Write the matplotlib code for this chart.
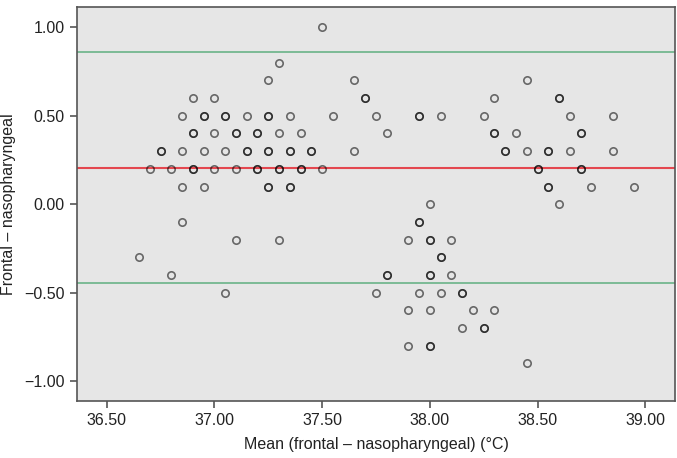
import numpy as np
import matplotlib
matplotlib.use("Agg")
import matplotlib.pyplot as plt

plt.rcParams['font.family'] = ['Liberation Sans', 'DejaVu Sans']

# Data: mean of readings (°C), difference (°C), number of overlapping observations
mean_vals = [37.50, 37.30, 37.25, 36.90, 37.00,
             36.85, 36.95, 37.05, 37.15, 37.25, 37.35,
             36.90, 37.00, 37.10, 37.20, 37.30, 37.40,
             36.75, 36.85, 36.95, 37.05, 37.15, 37.25, 37.35, 37.45,
             36.70, 36.80, 36.90, 37.00, 37.10, 37.20, 37.30, 37.40, 37.50,
             36.85, 36.95, 37.25, 37.35,
             36.85, 37.10, 37.30, 36.65, 36.80, 37.05,
             37.65, 37.70, 37.55, 37.75, 37.95, 38.05, 37.80, 37.65,
             38.00, 37.95, 37.90, 38.00, 38.10, 38.05,
             37.80, 38.00, 38.10, 37.75, 37.95, 38.05, 38.15,
             37.90, 38.00, 38.20, 38.30, 38.15, 38.25, 37.90, 38.00,
             38.45, 38.30, 38.60, 38.25, 38.65, 38.85,
             38.30, 38.40, 38.70,
             38.35, 38.45, 38.55, 38.65, 38.85,
             38.50, 38.70, 38.55, 38.75, 38.95, 38.60, 38.45]
diff_vals = [1.0, 0.8, 0.7, 0.6, 0.6,
             0.5, 0.5, 0.5, 0.5, 0.5, 0.5,
             0.4, 0.4, 0.4, 0.4, 0.4, 0.4,
             0.3, 0.3, 0.3, 0.3, 0.3, 0.3, 0.3, 0.3,
             0.2, 0.2, 0.2, 0.2, 0.2, 0.2, 0.2, 0.2, 0.2,
             0.1, 0.1, 0.1, 0.1,
             -0.1, -0.2, -0.2, -0.3, -0.4, -0.5,
             0.7, 0.6, 0.5, 0.5, 0.5, 0.5, 0.4, 0.3,
             0.0, -0.1, -0.2, -0.2, -0.2, -0.3,
             -0.4, -0.4, -0.4, -0.5, -0.5, -0.5, -0.5,
             -0.6, -0.6, -0.6, -0.6, -0.7, -0.7, -0.8, -0.8,
             0.7, 0.6, 0.6, 0.5, 0.5, 0.5,
             0.4, 0.4, 0.4,
             0.3, 0.3, 0.3, 0.3, 0.3,
             0.2, 0.2, 0.1, 0.1, 0.1, 0.0, -0.9]
n_overlap = [1, 1, 1, 1, 1,
             1, 2, 2, 1, 2, 1,
             2, 1, 2, 2, 1, 1,
             2, 1, 1, 1, 2, 2, 2, 2,
             1, 1, 2, 1, 1, 2, 2, 2, 1,
             1, 1, 2, 2,
             1, 1, 1, 1, 1, 1,
             1, 2, 1, 1, 2, 1, 1, 1,
             1, 2, 1, 2, 1, 2,
             2, 2, 1, 1, 1, 1, 2,
             1, 1, 1, 1, 1, 2, 1, 2,
             1, 1, 2, 1, 1, 1,
             2, 1, 2,
             2, 1, 2, 1, 1,
             2, 2, 2, 1, 1, 1, 1]

mean_diff = 0.206
upper_loa = 0.859
lower_loa = -0.446

xs = np.repeat(mean_vals, n_overlap)
ys = np.repeat(diff_vals, n_overlap)

fig = plt.figure(figsize=(6.77, 4.58), dpi=100)
ax = fig.add_axes([0.1137, 0.1251, 0.997 - 0.1137, 0.9847 - 0.1251])
ax.set_facecolor('#E6E6E6')

ax.axhline(upper_loa, color='#5FAE80', lw=1.1, zorder=1)
ax.axhline(lower_loa, color='#5FAE80', lw=1.1, zorder=1)
ax.axhline(mean_diff, color='#E4474F', lw=1.5, zorder=1)

ax.plot(xs, ys, linestyle='none', marker='o', markersize=5.3,
        markerfacecolor='none', markeredgecolor=(0, 0, 0, 0.55),
        markeredgewidth=1.2, zorder=3)

ax.set_xlim(36.362, 39.138)
ax.set_ylim(-1.111, 1.115)
ax.set_xticks([36.5, 37.0, 37.5, 38.0, 38.5, 39.0])
ax.set_xticklabels(['36.50', '37.00', '37.50', '38.00', '38.50', '39.00'])
ax.set_yticks([-1.0, -0.5, 0.0, 0.5, 1.0])
ax.set_yticklabels(['\u22121.00', '\u22120.50', '0.00', '0.50', '1.00'])

for s in ax.spines.values():
    s.set_color('#555555')
    s.set_linewidth(1.2)
ax.tick_params(direction='out', length=5, width=1.2, color='#555555',
               labelsize=11.5, labelcolor='#222222', pad=4)

ax.set_xlabel('Mean (frontal \u2013 nasopharyngeal) (\u00b0C)', fontsize=11.5,
              color='#222222', labelpad=6)
ax.set_ylabel('Frontal \u2013 nasopharyngeal', fontsize=11.5, color='#222222',
              labelpad=6)

fig.savefig('out.png', dpi=100)
